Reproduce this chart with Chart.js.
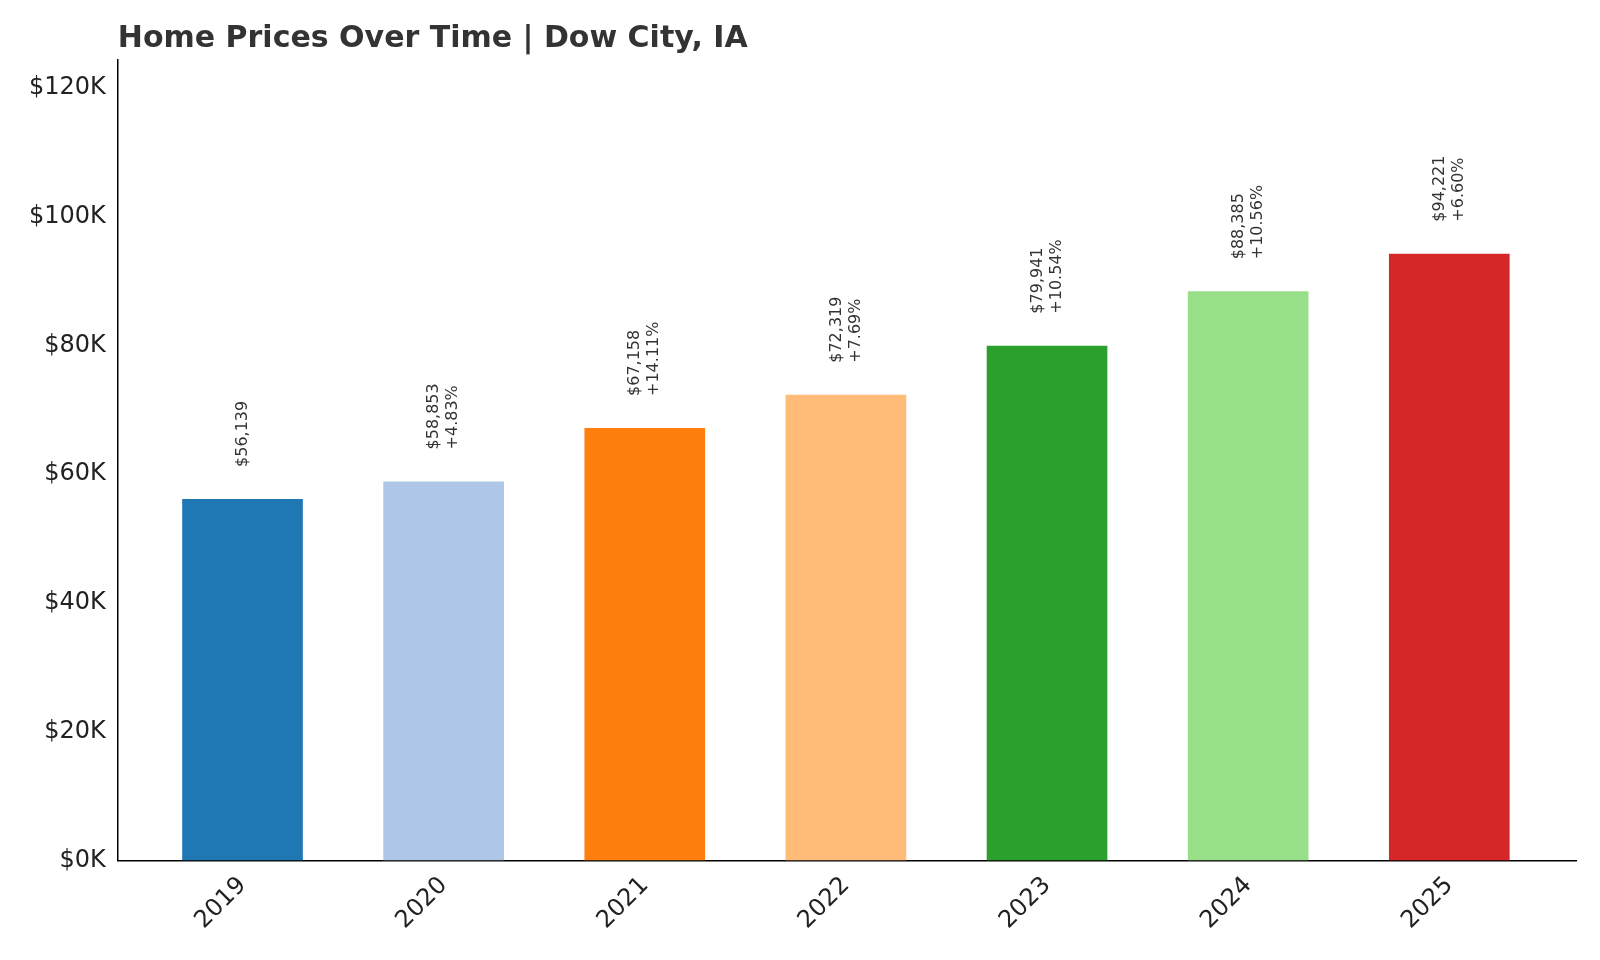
<!DOCTYPE html>
<html><head><meta charset="utf-8">
<script src="https://cdn.jsdelivr.net/npm/chart.js@4"></script>
<style>body{margin:0;background:#fff}#w{width:1600px;height:960px;position:relative}</style>
</head><body><div id="w"><canvas id="c" width="1600" height="960"></canvas></div>
<script>
const years = ["2019","2020","2021","2022","2023","2024","2025"];
const prices = [56139,58853,67158,72319,79941,88385,94221];
const changes = [null,"+4.83%","+14.11%","+7.69%","+10.54%","+10.56%","+6.60%"];
const colors = ["#1f77b4","#aec7e8","#ff7f0e","#ffbb78","#2ca02c","#98df8a","#d62728"];
const yTicks = [0,20000,40000,60000,80000,100000,120000];
const F = "'DejaVu Sans'";
const labelPlugin = {
  id:'lbl',
  afterDatasetsDraw(ch){
    const ctx=ch.ctx, meta=ch.getDatasetMeta(0);
    ctx.save();ctx.fillStyle='#333';ctx.font='16px '+F;ctx.textBaseline='middle';ctx.textAlign='left';
    meta.data.forEach((b,i)=>{
      const lines=['$'+prices[i].toLocaleString('en-US')];
      if(changes[i])lines.push(changes[i]);
      ctx.save();ctx.translate(b.x,b.y-32);ctx.rotate(-Math.PI/2);
      const n=lines.length;
      lines.forEach((t,k)=>ctx.fillText(t,0,(k-(n-1)/2)*19));
      ctx.restore();
    });
    ctx.fillStyle='#333';ctx.font='bold 30px '+F;ctx.textBaseline='alphabetic';
    ctx.fillText('Home Prices Over Time | Dow City, IA',ch.chartArea.left,47);
    ctx.restore();
  }
};
new Chart(document.getElementById('c'),{
  type:'bar',
  data:{datasets:[{data:prices.map((v,i)=>({x:i,y:v})),backgroundColor:colors,categoryPercentage:0.6,barPercentage:1}]},
  options:{responsive:false,animation:false,
    layout:{padding:{top:60,right:24,left:25,bottom:22}},
    plugins:{legend:{display:false},tooltip:{enabled:false}},
    scales:{
      x:{type:'linear',min:-0.62,max:6.63,offset:false,
        afterBuildTicks(s){s.ticks=years.map((y,i)=>({value:i}));},
        ticks:{callback:(v)=>years[v],color:'#222',font:{family:F,size:24},maxRotation:45,minRotation:45,autoSkip:false},
        grid:{display:false,drawTicks:true,tickLength:8,tickColor:'#000'},
        border:{display:true,color:'#000',width:1.5}},
      y:{min:0,max:124300,
        afterBuildTicks(s){s.ticks=yTicks.map(v=>({value:v}));},
        ticks:{callback:v=>'$'+(v/1000)+'K',color:'#222',font:{family:F,size:24},padding:4},
        grid:{display:false,drawTicks:true,tickLength:8,tickColor:'#000'},
        border:{display:true,color:'#000',width:1.5}}
    }},
  plugins:[labelPlugin]
});
</script></body></html>
